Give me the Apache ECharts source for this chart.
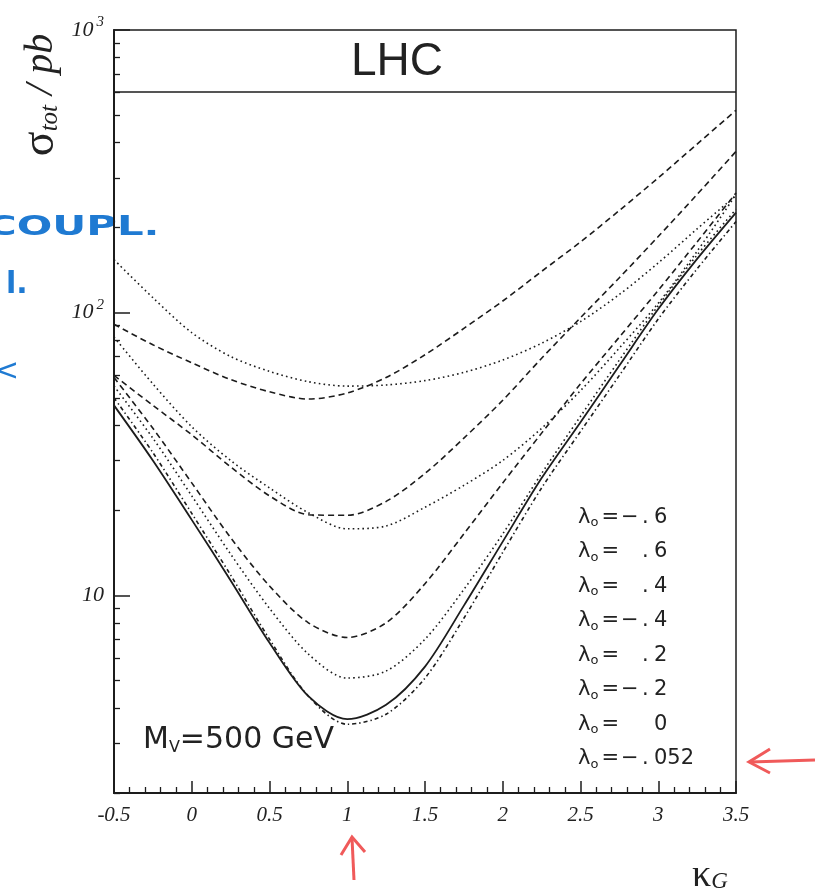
<!DOCTYPE html>
<html>
<head>
<meta charset="utf-8">
<title>LHC cross section vs kappa_G</title>
<script src="https://cdn.jsdelivr.net/npm/echarts@6.0.0/dist/echarts.min.js"></script>
<style>
  html, body { margin: 0; padding: 0; background: #fff; }
  #chart { width: 819px; height: 892px; }
</style>
</head>
<body>
<div id="chart"></div>
<script>
// kappa_G values where the curves were read
var kappa = [-0.5, -0.25, 0, 0.25, 0.5, 0.75, 1, 1.25, 1.5, 1.75, 2, 2.25, 2.5, 2.75, 3, 3.25, 3.5];

// sigma_tot / pb for each lambda
var lamM06  = [154, 113, 85, 70, 62, 57, 55, 55.5, 57.5, 61.5, 68, 78, 93, 116, 150, 198, 260];
var lamP06  = [91, 77, 66.5, 58, 52.5, 49.5, 52, 59, 71, 88, 110, 140, 178, 230, 300, 395, 520];
var lamP04  = [60, 47, 37, 28.5, 22.5, 19.3, 19.2, 21.5, 27, 36, 49, 69, 96, 133, 186, 262, 372];
var lamM04  = [82, 56, 39.5, 30, 24, 19.6, 17.2, 17.6, 20.5, 24.5, 30, 39, 53, 75, 108, 165, 262];
var lamP02  = [59, 39, 25, 16, 10.8, 8.0, 7.1, 8.0, 11, 16.5, 25, 37.5, 56, 82, 120, 178, 265];
var lamM02  = [55, 36, 22.5, 14, 9.0, 6.2, 5.1, 5.4, 7.0, 10.5, 16.5, 27, 43, 68, 106, 160, 232];
var lam0    = [47, 30, 18.5, 11.3, 6.8, 4.4, 3.65, 4.1, 5.6, 9.2, 15.5, 26, 41, 65, 103, 155, 226];
var lamM052 = [50, 32, 19.5, 11.8, 7.0, 4.4, 3.5, 3.8, 5.1, 8.3, 14.2, 24, 38, 60, 95, 143, 210];

// legend order as printed on the plot
var legendNames = ['-.6', '.6', '.4', '-.4', '.2', '-.2', '0', '-.052'];

var yMajor = [10, 100, 1000];
var yMinor = [2, 3, 4, 5, 6, 7, 8, 9, 20, 30, 40, 50, 60, 70, 80, 90, 200, 300, 400, 500, 600, 700, 800, 900];

var INK = '#1c1c1c';
var DASH = [6, 4];
var DOT = [1.6, 3.2];
var DASHDOT = [4, 3, 1.4, 3];

function curve(name, vals, type, width) {
  return {
    name: name,
    type: 'line',
    data: kappa.map(function (k, i) { return [k, vals[i]]; }),
    smooth: 0.3,
    symbol: 'none',
    silent: true,
    lineStyle: { color: INK, width: width || 1.6, type: type }
  };
}

var chart = echarts.init(document.getElementById('chart'));

chart.setOption({
  animation: false,
  backgroundColor: '#fff',
  grid: {
    left: 114, right: 83, top: 30, bottom: 99,
    show: true, borderColor: INK, borderWidth: 1.5
  },
  xAxis: {
    type: 'value',
    min: -0.5, max: 3.5, interval: 0.5,
    axisLine: { show: true, onZero: false, lineStyle: { color: INK, width: 2 } },
    axisTick: { inside: true, length: 12, lineStyle: { color: INK, width: 1.5 } },
    minorTick: { show: true, splitNumber: 5, length: 6, lineStyle: { color: INK, width: 1.3 } },
    splitLine: { show: false },
    axisLabel: {
      margin: 12,
      fontSize: 21,
      fontFamily: 'Liberation Serif',
      fontStyle: 'italic',
      color: '#222',
      formatter: function (v) { return String(v); }
    }
  },
  yAxis: [{
    type: 'log',
    min: 2, max: 1000,
    axisLine: { show: true, onZero: false, lineStyle: { color: INK, width: 2 } },
    axisTick: { inside: true, length: 16, customValues: yMajor, lineStyle: { color: INK, width: 1.5 } },
    splitLine: { show: false },
    axisLabel: {
      customValues: yMajor,
      margin: 10,
      formatter: function (v) {
        var p = Math.round(Math.log10(v));
        return p === 1 ? '{b|10}' : '{b|10}{s|' + p + '}';
      },
      rich: {
        b: { fontSize: 22, lineHeight: 30, fontFamily: 'Liberation Serif', fontStyle: 'italic', color: '#222' },
        s: { fontSize: 15, lineHeight: 15, verticalAlign: 'top', fontFamily: 'Liberation Serif', fontStyle: 'italic', color: '#222', padding: [0, 0, 0, 3] }
      }
    }
  }, {
    type: 'log',
    min: 2, max: 1000,
    position: 'left',
    axisLine: { show: false, onZero: false },
    axisTick: { inside: true, length: 6, customValues: yMinor, lineStyle: { color: INK, width: 1.3 } },
    axisLabel: { show: false },
    splitLine: { show: false }
  }],
  legend: {
    data: legendNames,
    left: 567, top: 502,
    orient: 'vertical',
    itemWidth: 0, itemHeight: 0,
    itemGap: 12,
    selectedMode: false,
    formatter: function (name) {
      var sign = name.charAt(0) === '-' ? '\u2212' : '\u00a0';
      var rest = name.replace('-', '');
      var dot = rest.charAt(0) === '.' ? '.' : '\u00a0';
      var digits = rest.replace('.', '');
      return '{a|\u03bb}{b|o}{e|=}{c|' + sign + '}{d|' + dot + '}{a|' + digits + '}';
    },
    textStyle: {
      rich: {
        a: { fontSize: 21, lineHeight: 24, fontFamily: 'DejaVu Sans', color: '#222' },
        b: { fontSize: 13, lineHeight: 12, verticalAlign: 'bottom', fontFamily: 'DejaVu Sans', color: '#222', padding: [0, 3, 0, 0] },
        e: { fontSize: 21, lineHeight: 24, fontFamily: 'DejaVu Sans', color: '#222', padding: [0, 2, 0, 0] },
        c: { fontSize: 21, lineHeight: 24, width: 21, fontFamily: 'DejaVu Sans', color: '#222' },
        d: { fontSize: 21, lineHeight: 24, width: 12, fontFamily: 'DejaVu Sans', color: '#222' }
      }
    }
  },
  series: [
    curve('-.6', lamM06, DOT),
    curve('.6', lamP06, DASH),
    curve('.4', lamP04, DASH),
    curve('-.4', lamM04, DOT),
    curve('.2', lamP02, DASH),
    curve('-.2', lamM02, DOT),
    curve('0', lam0, 'solid', 1.8),
    curve('-.052', lamM052, DASHDOT)
  ],
  graphic: [
    // LHC header box
    { type: 'line', shape: { x1: 114, y1: 92, x2: 736, y2: 92 }, style: { stroke: INK, lineWidth: 1.5 } },
    { type: 'text', x: 397, y: 62, style: { text: 'LHC', font: '46px "Liberation Sans"', fill: '#222', align: 'center', verticalAlign: 'middle' } },
    // y axis title
    {
      type: 'text', x: 41, y: 95, rotation: Math.PI / 2,
      style: {
        text: '{s|\u03c3}{t|tot}{p| / pb}', align: 'center', verticalAlign: 'middle',
        rich: {
          s: { fontSize: 46, lineHeight: 44, fontFamily: 'Liberation Serif', fill: '#222' },
          t: { fontSize: 25, lineHeight: 20, verticalAlign: 'bottom', fontFamily: 'Liberation Serif', fontStyle: 'italic', fill: '#222' },
          p: { fontSize: 40, lineHeight: 44, fontFamily: 'Liberation Serif', fontStyle: 'italic', fill: '#222' }
        }
      }
    },
    // x axis title
    {
      type: 'text', x: 710, y: 876,
      style: {
        text: '{k|\u03ba}{g|G}', align: 'center', verticalAlign: 'middle',
        rich: {
          k: { fontSize: 38, lineHeight: 34, fontFamily: 'Liberation Serif', fill: '#222' },
          g: { fontSize: 23, lineHeight: 18, verticalAlign: 'bottom', fontFamily: 'Liberation Serif', fontStyle: 'italic', fill: '#222' }
        }
      }
    },
    // mass label
    {
      type: 'text', x: 143, y: 740,
      style: {
        text: '{m|M}{v|V}{m|=500 GeV}', align: 'left', verticalAlign: 'middle',
        rich: {
          m: { fontSize: 30, lineHeight: 32, fontFamily: 'DejaVu Sans', fill: '#222' },
          v: { fontSize: 16, lineHeight: 14, verticalAlign: 'bottom', fontFamily: 'DejaVu Sans', fill: '#222' }
        }
      }
    },
    // handwritten notes
    { type: 'text', x: -14, y: 228, scaleX: 1.55, style: { text: 'COUPL.', font: 'bold 27px "DejaVu Sans"', fill: '#1f7ad2', verticalAlign: 'middle' } },
    { type: 'text', x: 6, y: 285, style: { text: 'l.', font: 'bold 30px "DejaVu Sans"', fill: '#1f7ad2', verticalAlign: 'middle' } },
    { type: 'text', x: -6, y: 372, style: { text: '<', font: '30px "DejaVu Sans"', fill: '#1f7ad2', verticalAlign: 'middle' } },
    // red arrows
    { type: 'polyline', shape: { points: [[354, 880], [352, 838]] }, style: { stroke: '#f05a5a', lineWidth: 3, fill: null } },
    { type: 'polyline', shape: { points: [[341, 855], [352, 837], [365, 852]] }, style: { stroke: '#f05a5a', lineWidth: 3, fill: null } },
    { type: 'polyline', shape: { points: [[815, 760], [750, 762]] }, style: { stroke: '#f05a5a', lineWidth: 3, fill: null } },
    { type: 'polyline', shape: { points: [[770, 749], [749, 762], [770, 773]] }, style: { stroke: '#f05a5a', lineWidth: 3, fill: null } }
  ]
});
</script>
</body>
</html>
